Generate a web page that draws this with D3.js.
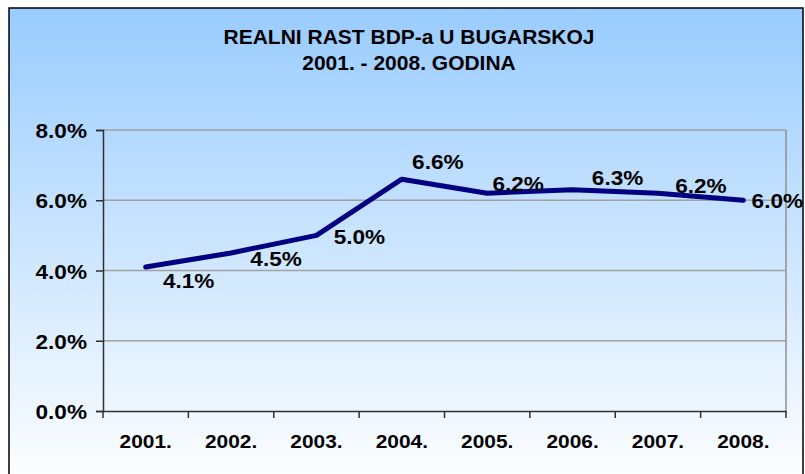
<!DOCTYPE html>
<html lang="hr">
<head>
  <meta charset="UTF-8">
  <title>Realni rast BDP-a u Bugarskoj</title>
  <script src="https://d3js.org/d3.v7.min.js"></script>
  <style>
    body { margin: 0; background: #fff; }
    text { font-family: "Liberation Sans", Arial, sans-serif; font-weight: bold; fill: #000; }
  </style>
</head>
<body>
  <svg id="chart" width="805" height="474"></svg>
  <script>
    // data
    let years = ['2001.', '2002.', '2003.', '2004.', '2005.', '2006.', '2007.', '2008.'];
    let growth = [4.1, 4.5, 5.0, 6.6, 6.2, 6.3, 6.2, 6.0];
    let yTicks = [0, 2, 4, 6, 8];
    let titleLines = ['REALNI RAST BDP-a U BUGARSKOJ', '2001. - 2008. GODINA'];

    // where each value label sits relative to its point (as in the original)
    let labelOffsets = [[43, 21], [45, 13], [43, 9], [36, -10], [31, -2], [45, -5], [43, 0], [34, 8]];

    let svg = d3.select('#chart');
    let plotLeft = 103, plotRight = 786, plotTop = 130, plotBottom = 411;

    let defs = svg.append('defs');
    let grad = defs.append('linearGradient')
      .attr('id', 'bg').attr('x1', 0).attr('y1', 0).attr('x2', 0).attr('y2', 1);
    grad.append('stop').attr('offset', '0%').attr('stop-color', '#99ccff');
    grad.append('stop').attr('offset', '100%').attr('stop-color', '#ffffff');

    svg.append('rect')
      .attr('x', 9).attr('y', 8).attr('width', 794).attr('height', 480)
      .attr('fill', 'url(#bg)')
      .attr('stroke', '#000').attr('stroke-width', 1.5);

    // title
    svg.selectAll('.title')
      .data(titleLines)
      .join('text')
      .attr('class', 'title')
      .attr('text-anchor', 'middle')
      .attr('font-size', 20)
      .attr('transform', function (d, i) { return 'translate(409,' + (44 + i * 26) + ') scale(1.05,1)'; })
      .text(function (d) { return d; });

    let x = d3.scaleBand().domain(years).range([plotLeft, plotRight]);
    let y = d3.scaleLinear().domain([0, 8]).range([plotBottom, plotTop]);

    // gridlines
    svg.append('g')
      .selectAll('line')
      .data(yTicks.filter(function (d) { return d > 0; }))
      .join('line')
      .attr('x1', plotLeft).attr('x2', plotRight)
      .attr('y1', function (d) { return y(d); })
      .attr('y2', function (d) { return y(d); })
      .attr('stroke', '#a0a0a0').attr('stroke-width', 1.5);

    svg.append('line')
      .attr('x1', plotRight).attr('x2', plotRight).attr('y1', plotTop).attr('y2', plotBottom)
      .attr('stroke', '#909090').attr('stroke-width', 1.5);

    // y axis
    let yAxis = svg.append('g')
      .attr('transform', 'translate(' + plotLeft + ',0)')
      .call(d3.axisLeft(y).tickValues(yTicks).tickSize(7)
        .tickFormat(function (d) { return d.toFixed(1) + '%'; }));
    yAxis.select('.domain').attr('stroke', '#303030').attr('stroke-width', 1.5);
    yAxis.selectAll('.tick line').attr('stroke', '#303030').attr('stroke-width', 1.5);
    yAxis.selectAll('.tick text')
      .attr('x', null).attr('dy', null)
      .attr('font-size', 20)
      .attr('fill', '#000')
      .attr('transform', 'translate(-16,7.5) scale(1.13,1)');

    // x axis
    let xAxis = svg.append('g')
      .attr('transform', 'translate(0,' + plotBottom + ')')
      .call(d3.axisBottom(x).tickSize(0).tickSizeOuter(0));
    xAxis.select('.domain').attr('stroke', '#303030').attr('stroke-width', 1.5);
    xAxis.selectAll('.tick text')
      .attr('y', null).attr('dy', null)
      .attr('font-size', 19)
      .attr('fill', '#000')
      .attr('transform', 'translate(0,37) scale(1.1,1)');

    // category separators on the x axis
    xAxis.append('g')
      .selectAll('line')
      .data(years.concat(['end']))
      .join('line')
      .attr('x1', function (d, i) { return plotLeft + i * x.step(); })
      .attr('x2', function (d, i) { return plotLeft + i * x.step(); })
      .attr('y1', 0).attr('y2', 7)
      .attr('stroke', '#303030').attr('stroke-width', 1.5);

    // line
    let line = d3.line()
      .x(function (d, i) { return x(years[i]) + x.bandwidth() / 2; })
      .y(function (d) { return y(d); });

    svg.append('path')
      .datum(growth)
      .attr('d', line)
      .attr('fill', 'none')
      .attr('stroke', '#000080')
      .attr('stroke-width', 5)
      .attr('stroke-linecap', 'round')
      .attr('stroke-linejoin', 'round');

    // value labels
    svg.append('g')
      .selectAll('text')
      .data(growth)
      .join('text')
      .attr('text-anchor', 'middle')
      .attr('font-size', 20)
      .attr('transform', function (d, i) {
        let px = x(years[i]) + x.bandwidth() / 2 + labelOffsets[i][0];
        let py = y(d) + labelOffsets[i][1];
        return 'translate(' + px + ',' + py + ') scale(1.13,1)';
      })
      .text(function (d) { return d.toFixed(1) + '%'; });
  </script>
</body>
</html>
